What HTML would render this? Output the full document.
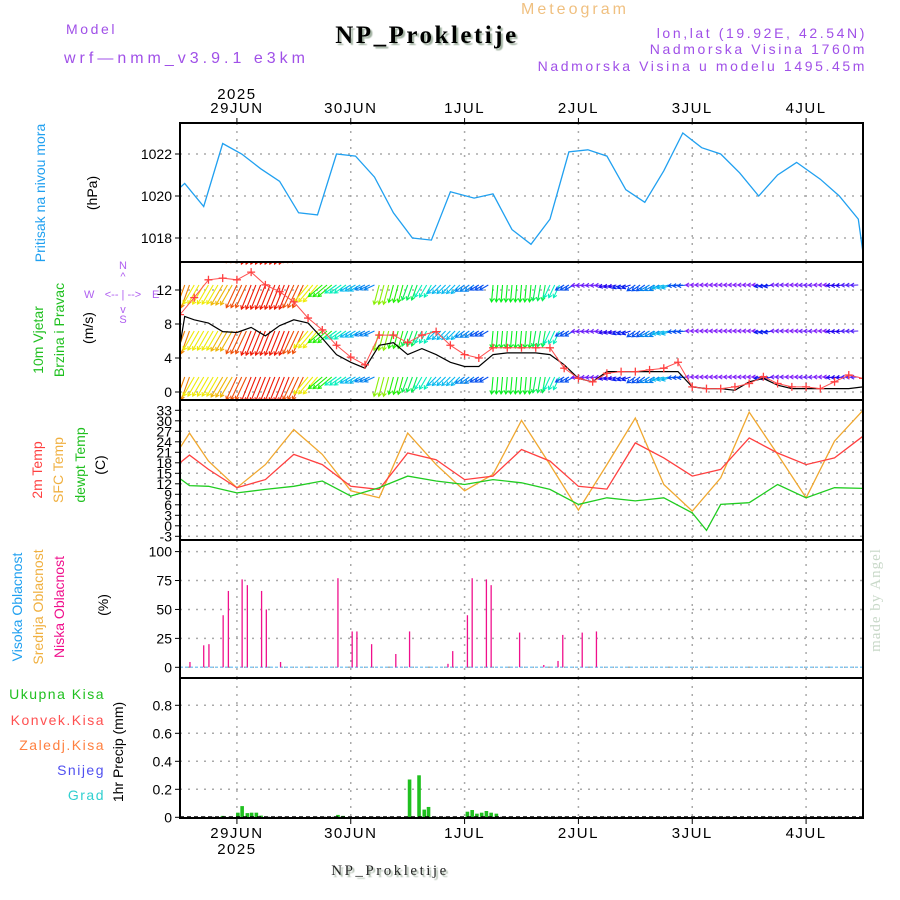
<!DOCTYPE html>
<html><head><meta charset="utf-8">
<style>
html,body{margin:0;padding:0;background:#fff;}
svg{display:block;font-family:"Liberation Sans",sans-serif;}
.tk{font-size:14px;fill:#000;text-anchor:end;}
.hd{font-size:14px;letter-spacing:2.6px;}
</style></head>
<body>
<svg id="chart" width="900" height="900" viewBox="0 0 900 900" xmlns="http://www.w3.org/2000/svg">
<defs>
<clipPath id="c2"><rect x="180" y="262" width="683" height="138"/></clipPath>
<filter id="sh"><feDropShadow dx="2" dy="2" stdDeviation="0.6" flood-color="#9a9" flood-opacity="0.9"/></filter>
</defs>
<!-- header -->
<text x="66" y="34" class="hd" fill="#a050e8">Model</text>
<text x="64" y="63" class="hd" fill="#a050e8" style="font-size:16px;letter-spacing:4px">wrf—nmm_v3.9.1 e3km</text>
<text x="521" y="14" class="hd" fill="#f0c080" style="font-size:16px;letter-spacing:3px">Meteogram</text>
<text x="427" y="43" text-anchor="middle" font-family="Liberation Serif, serif" font-weight="bold" font-size="25" letter-spacing="2.5" fill="#000" filter="url(#sh)">NP_Prokletije</text>
<text x="867" y="38" text-anchor="end" class="hd" fill="#a050e8">lon,lat (19.92E, 42.54N)</text>
<text x="867" y="54" text-anchor="end" class="hd" fill="#a050e8">Nadmorska Visina 1760m</text>
<text x="867" y="71" text-anchor="end" class="hd" fill="#a050e8">Nadmorska Visina u modelu 1495.45m</text>
<text x="880" y="600" transform="rotate(-90 880 600)" text-anchor="middle" font-family="Liberation Serif, serif" font-size="15" letter-spacing="1" fill="#c8d8c8">made by Angel</text>
<text x="390" y="875" text-anchor="middle" font-family="Liberation Serif, serif" font-size="15" letter-spacing="2.5" fill="#222" filter="url(#sh)">NP_Prokletije</text>

<!-- left labels -->
<g font-size="14">
<text transform="translate(45,193) rotate(-90)" text-anchor="middle" fill="#20a0f0">Pritisak na nivou mora</text>
<text transform="translate(97,193) rotate(-90)" text-anchor="middle" fill="#000">(hPa)</text>
<text transform="translate(43,340) rotate(-90)" text-anchor="middle" fill="#20c020">10m Vjetar</text>
<text transform="translate(64,330) rotate(-90)" text-anchor="middle" fill="#20c020">Brzina i Pravac</text>
<text transform="translate(93,328) rotate(-90)" text-anchor="middle" fill="#000">(m/s)</text>
<text transform="translate(42,470) rotate(-90)" text-anchor="middle" fill="#ff4040">2m Temp</text>
<text transform="translate(63,470) rotate(-90)" text-anchor="middle" fill="#f0b040">SFC Temp</text>
<text transform="translate(85,465) rotate(-90)" text-anchor="middle" fill="#20c020">dewpt Temp</text>
<text transform="translate(105,465) rotate(-90)" text-anchor="middle" fill="#000">(C)</text>
<text transform="translate(22,607) rotate(-90)" text-anchor="middle" fill="#20a0f0">Visoka Oblacnost</text>
<text transform="translate(43,607) rotate(-90)" text-anchor="middle" fill="#f0b040">Srednja Oblacnost</text>
<text transform="translate(64,607) rotate(-90)" text-anchor="middle" fill="#f0108c">Niska Oblacnost</text>
<text transform="translate(108,605) rotate(-90)" text-anchor="middle" fill="#000">(%)</text>
<text x="105" y="699" text-anchor="end" fill="#20c020" letter-spacing="1.5">Ukupna  Kisa</text>
<text x="105" y="725" text-anchor="end" fill="#ff5050" letter-spacing="1.5">Konvek.Kisa</text>
<text x="105" y="750" text-anchor="end" fill="#ff8040" letter-spacing="1.5">Zaledj.Kisa</text>
<text x="105" y="775" text-anchor="end" fill="#5050f0" letter-spacing="1.5">Snijeg</text>
<text x="105" y="800" text-anchor="end" fill="#30d0d0" letter-spacing="1.5">Grad</text>
<text transform="translate(123,752) rotate(-90)" text-anchor="middle" fill="#000">1hr Precip (mm)</text>
</g>
<g fill="#b060f0" font-size="11">
<text x="123" y="269" text-anchor="middle">N</text>
<text x="123" y="280" text-anchor="middle">^</text>
<text x="84" y="298">W</text>
<text x="123" y="298" text-anchor="middle">&lt;-- | --&gt;</text>
<text x="152" y="298">E</text>
<text x="123" y="313" text-anchor="middle">v</text>
<text x="123" y="323" text-anchor="middle">S</text>
</g>
<g id="plot"></g>
</svg>
<script>
// ---- data ----
const dayLabels = ["29JUN","30JUN","1JUL","2JUL","3JUL","4JUL"];
const dayHours = [12,36,60,84,108,132];
const presHours = [0,1,5,9,13,17,21,25,29,33,37,41,45,49,53,57,62,66,70,74,78,82,86,90,94,98,102,106,110,114,118,122,126,130,135,139,143,144];
const presVals = [1020.4,1020.6,1019.5,1022.5,1022.0,1021.3,1020.7,1019.2,1019.1,1022.0,1021.9,1020.9,1019.2,1018.0,1017.9,1020.2,1019.9,1020.1,1018.4,1017.7,1018.9,1022.1,1022.2,1021.9,1020.3,1019.7,1021.2,1023.0,1022.3,1022.0,1021.1,1020.0,1021.0,1021.6,1020.8,1020.0,1018.9,1017.3];
const presTicks = [1018,1020,1022];
const tHours = [0,2,6,12,18,24,30,36,42,48,54,60,66,72,78,84,90,96,102,108,114,120,126,132,138,144];
const t2m = [18.0,20.2,16.1,10.9,13.2,20.4,17.5,11.3,10.4,20.8,18.9,13.2,14.2,21.8,18.5,11.3,10.5,23.7,19.4,14.2,16.1,25.1,20.8,17.5,19.4,25.6];
const tSfc = [22.3,26.5,18.5,10.9,17.5,27.5,20.4,10.0,8.0,26.5,17.5,10.0,14.7,30.1,17.5,4.5,17.5,30.8,11.8,4.2,13.7,32.5,20.4,8.0,24.2,33.0];
const dewHours = [0,2,6,12,18,24,30,36,42,48,54,60,66,72,78,84,90,96,102,108,111,114,120,126,132,138,144];
const tDew = [13.5,11.5,11.3,9.4,10.4,11.3,12.8,8.5,10.9,14.2,12.8,11.8,13.2,12.3,10.4,6.1,8.0,7.1,8.0,3.7,-1.3,6.1,6.6,11.8,8.0,10.9,10.7];
const tempTicks = [-3,0,3,6,9,12,15,18,21,24,27,30,33];
const windHours = [0,1,3,6,9,12,15,18,21,24,27,30,33,36,39,42,45,48,51,54,57,60,63,66,69,72,75,78,81,84,87,90,93,96,99,102,105,108,111,114,117,120,123,126,129,132,135,138,141,144];
const windSpeed = [5.5,8.9,8.5,8.1,7.1,7.0,7.6,6.6,7.8,8.5,8.1,6.3,4.4,3.5,2.8,5.5,5.8,4.4,5.1,4.4,3.5,3.0,3.0,4.4,4.6,4.6,4.6,4.4,3.2,1.6,1.2,2.4,2.4,2.4,2.4,2.4,2.4,0.6,0.4,0.4,0.2,1.2,1.6,0.8,0.4,0.4,0.4,0.4,0.4,0.6];
const gustHours = [0,3,6,9,12,15,18,21,24,27,30,33,36,39,42,45,48,51,54,57,60,63,66,69,72,75,78,81,84,87,90,93,96,99,102,105,108,111,114,117,120,123,126,129,132,135,138,141,144];
const gustSpeed = [9.1,11.1,13.2,13.4,13.2,14.1,12.6,11.8,10.6,8.7,7.3,5.5,4.1,3.2,6.7,6.7,5.8,6.7,7.1,5.5,4.4,4.0,5.2,5.2,5.2,5.2,5.2,2.8,1.6,1.2,2.2,2.4,2.4,2.6,2.8,3.5,0.6,0.4,0.4,0.6,1.0,1.8,1.0,0.6,0.6,0.4,1.2,2.0,1.6];
const windTicks = [0,4,8,12];
const arrowHours = [0,3,6,9,12,15,18,21,24,27,30,33,36,39,42,45,48,51,54,57,60,63,66,69,72,75,78,81,84,87,90,93,96,99,102,105,108,111,114,117,120,123,126,129,132,135,138,141];
const arrowSpd = [9,8,8,8.5,9.5,10,10,10,9.5,8,6,4,3,2.5,7,6,5,4,3,3,2.5,2,5.5,5.5,5.5,5,4,2,0.5,0.5,1,1.5,2,2.5,3,2,0.3,0.3,0.3,0.3,0.3,1.5,0.5,0.3,0.5,0.3,1,0.8];
const arrowDir = [20,30,30,30,25,22,22,22,25,40,50,55,60,65,15,15,20,30,45,45,55,60,5,5,5,10,25,60,85,85,75,70,55,60,75,85,90,90,90,90,90,80,90,90,88,90,85,88];
const cloudHours = [2.1,5,6.1,9.1,10.2,13.1,14.2,17.2,18.2,21.2,33.3,36.3,37.3,40.4,45.5,48.4,56.5,57.5,60.6,61.6,64.6,65.6,71.6,76.7,79.7,80.7,84.8,87.8];
const cloudLow = [4.6,19,20,45,66,76,71,66,50,4.6,77,31,31,20,11.5,31,3,14,45,77,76,71,30,2,5.5,28,30,31];
const cloudTicks = [0,25,50,75,100];
const precipHours = [9,12.2,13.1,14.2,15.1,16.1,17.1,33.3,34.4,48.4,50.4,51.5,52.4,60.6,61.6,62.6,63.6,64.6,65.6,66.7];
const precipVals = [0.01,0.033,0.08,0.03,0.033,0.033,0.012,0.017,0.01,0.27,0.30,0.055,0.074,0.04,0.052,0.026,0.033,0.045,0.033,0.026];
const precipTicks = [0,0.2,0.4,0.6,0.8];
const precipTickLabels = ["0","0.2","0.4","0.6","0.8"];

// ---- axes ----
const X0=180, X1=863, H=144;
const xs = h => X0 + h*(X1-X0)/H;
const yP = p => 196 - (p-1020)*21;
const yW = s => 392 - s*8.5;
const yT = t => 410.3 + (33-t)*3.5;
const yC = c => 667.3 - c*1.157;
const yR = v => 817.3 - v*140;
const panels = [[123,262],[262,400],[400,540],[540,678],[678,818]];

const NS="http://www.w3.org/2000/svg";
const plot=document.getElementById('plot');
function mk(tag,attrs,parent){const e=document.createElementNS(NS,tag);for(const k in attrs)e.setAttribute(k,attrs[k]);(parent||plot).appendChild(e);return e;}

const grid=mk('g',{stroke:'#aaa','stroke-width':1.5,'stroke-dasharray':'2 6'});


panels.forEach(([a,b])=>dayHours.forEach(h=>mk('line',{x1:xs(h),x2:xs(h),y1:a,y2:b},grid)));
function hgrid(ticks,yf,labels,name){
  const g=mk('g',{});
  
  
  ticks.forEach((t,i)=>{
    mk('line',{x1:X0,x2:X1,y1:yf(t),y2:yf(t),stroke:'#aaa','stroke-width':1.5,'stroke-dasharray':'2 6'},g);
    mk('line',{x1:X0-5,x2:X0,y1:yf(t),y2:yf(t),stroke:'#000'},g);
    const tx=mk('text',{x:X0-8,y:yf(t)+5,class:'tk'},g);
    tx.textContent=labels?labels[i]:String(t);
  });
}
hgrid(presTicks,yP,null,'pressure-y-axis');
hgrid(windTicks,yW,null,'wind-y-axis');
hgrid(tempTicks,yT,null,'temp-y-axis');
hgrid(cloudTicks,yC,null,'cloud-y-axis');
hgrid(precipTicks,yR,precipTickLabels,'precip-y-axis');

dayLabels.forEach((d,i)=>{
  const x=xs(dayHours[i]);
  const t1=mk('text',{x:x,y:113,'text-anchor':'middle','font-size':15,'letter-spacing':1.5});
  t1.textContent=d;
  
  
  const t2=mk('text',{x:x,y:838,'text-anchor':'middle','font-size':15,'letter-spacing':1.5});
  t2.textContent=d;
  
  
  mk('line',{x1:x,x2:x,y1:118,y2:123,stroke:'#000'});
  mk('line',{x1:x,x2:x,y1:818,y2:824,stroke:'#000'});
});
const yr1=mk('text',{x:xs(12),y:99,'text-anchor':'middle','font-size':15,'letter-spacing':1.5});yr1.textContent='2025';


const yr2=mk('text',{x:xs(12),y:854,'text-anchor':'middle','font-size':15,'letter-spacing':1.5});yr2.textContent='2025';



function line(hrs,vals,yf,color,name,w,parent){
  const d=hrs.map((h,i)=>(i?'L':'M')+xs(h).toFixed(1)+','+yf(vals[i]).toFixed(1)).join('');
  const p=mk('path',{d:d,fill:'none',stroke:color,'stroke-width':w||1.3},parent);
  
  
  return p;
}
line(presHours,presVals,yP,'#20a0f0','pressure-line');

const wg=mk('g',{'clip-path':'url(#c2)'});


const rows=[240,285,331,377];
const colorOf=s=>'hsl('+Math.max(0,275-s*27)+',95%,'+(s<1?55:48)+'%)';
arrowHours.forEach((h,i)=>{
  const s=arrowSpd[i], d=arrowDir[i]*Math.PI/180, L=6+s*2, c=colorOf(s);
  for(let k=0;k<3;k++){
    const x=xs(h+k);
    rows.forEach(r=>{
      const dx=-Math.sin(d)*L, dy=Math.cos(d)*L;
      const ex=x+dx, ey=r+dy, a=Math.atan2(dy,dx);
      const a1=a+2.6,a2=a-2.6;
      const ar=mk('path',{d:`M${x},${r}L${ex},${ey}M${ex+Math.cos(a1)*4},${ey+Math.sin(a1)*4}L${ex},${ey}L${ex+Math.cos(a2)*4},${ey+Math.sin(a2)*4}`,stroke:c,fill:'none','stroke-width':1.1},wg);
      
      
    });
  }
});
line(windHours,windSpeed,yW,'#000','wind-speed-line',1.2,wg);
line(gustHours,gustSpeed,yW,'#ff5050','gust-line',1,wg);
gustHours.forEach((h,i)=>{
  const x=xs(h),y=yW(gustSpeed[i]);
  const g=mk('path',{d:`M${x-4},${y}H${x+4}M${x},${y-4}V${y+4}`,stroke:'#ff4040','stroke-width':1.3},wg);
  
  
});

line(tHours,tSfc,yT,'#f0a830','sfc-temp-line');
line(tHours,t2m,yT,'#ff4040','temp-2m-line');
line(dewHours,tDew,yT,'#20cc20','dewpoint-line');

const cb=mk('line',{x1:X0,x2:X1,y1:yC(0),y2:yC(0),stroke:'#88c8f0','stroke-width':1.5,'stroke-dasharray':'3 2'});


cloudHours.forEach((h,i)=>{
  const b=mk('line',{x1:xs(h),x2:xs(h),y1:yC(0),y2:yC(cloudLow[i]),stroke:'#f0108c','stroke-width':1.3});
  
  
});
precipHours.forEach((h,i)=>{
  const y=yR(precipVals[i]);
  const b=mk('rect',{x:xs(h)-1.8,y:y,width:3.6,height:yR(0)-y,fill:'#20c020'});
  
  
});
const pb=mk('line',{x1:X0,x2:X1,y1:yR(0)-0.5,y2:yR(0)-0.5,stroke:'#000','stroke-width':1,'stroke-dasharray':'4 3'});



panels.forEach(([a,b],i)=>{
  const r=mk('rect',{x:X0,y:a,width:X1-X0,height:b-a,fill:'none',stroke:'#000','stroke-width':2});
  
  
});
</script>
</body></html>
